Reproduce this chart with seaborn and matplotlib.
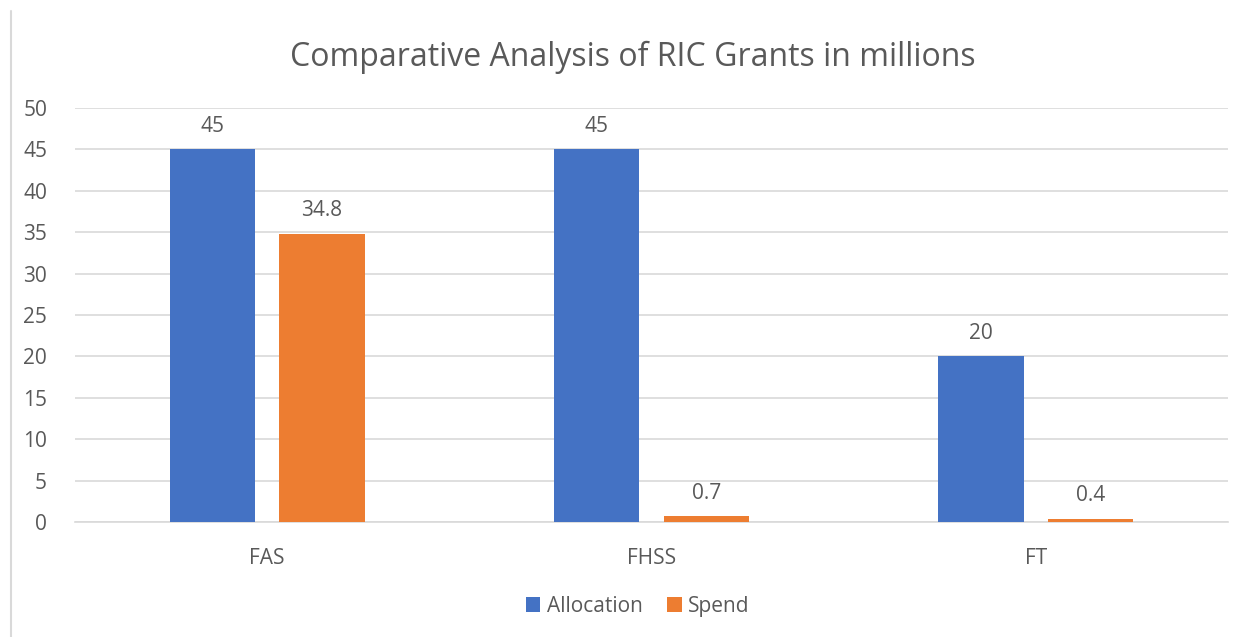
import seaborn as sns
import matplotlib.pyplot as plt
from matplotlib.lines import Line2D
import pandas as pd

faculties = ["FAS", "FHSS", "FT"]
allocation = [45, 45, 20]
spend = [34.8, 0.7, 0.4]
series_names = ["Allocation", "Spend"]
y_ticks = [0, 5, 10, 15, 20, 25, 30, 35, 40, 45, 50]

df = pd.DataFrame({
    "Faculty": faculties * 2,
    "Series": [series_names[0]] * 3 + [series_names[1]] * 3,
    "Value": allocation + spend,
})

sns.set_style("white")
plt.rcParams["font.family"] = ["Open Sans", "DejaVu Sans"]
text_col = "#595959"

fig = plt.figure(figsize=(12.48, 6.37), dpi=100)
ax = fig.add_axes([0.060, 0.1805, 0.924, 0.65])

sns.barplot(data=df, x="Faculty", y="Value", hue="Series",
            palette=["#4472C4", "#ED7D31"], width=0.57, gap=0.22,
            ax=ax, zorder=3, saturation=1, linewidth=0)

for c in ax.containers:
    ax.bar_label(c, fmt="%g", padding=9, fontsize=15, color=text_col)

ax.set_ylim(0, 50)
ax.set_xlim(-0.5, 2.5)
ax.set_yticks(y_ticks)
ax.yaxis.grid(True, color="#D9D9D9", lw=1.2, zorder=0)
ax.set_xlabel("")
ax.set_ylabel("")
for s in ["top", "right", "left"]:
    ax.spines[s].set_visible(False)
ax.spines["bottom"].set_color("#D9D9D9")
ax.spines["bottom"].set_linewidth(1.2)
ax.tick_params(axis="both", length=0, labelsize=15, labelcolor=text_col)
ax.tick_params(axis="y", pad=20)
ax.tick_params(axis="x", pad=19)

ax.set_title("Comparative Analysis of RIC Grants in millions",
             fontsize=23, color=text_col, pad=30, x=0.484)

handles, labels = ax.get_legend_handles_labels()
ax.legend(handles, labels, loc="center", bbox_to_anchor=(0.511, 0.048),
          bbox_transform=fig.transFigure, ncol=2, frameon=False,
          handlelength=0.7, handleheight=0.7, handletextpad=0.3,
          columnspacing=1.2, fontsize=15, labelcolor=text_col)

# chart frame edge on the left
fig.add_artist(Line2D([0.009, 0.009], [0.0, 0.983], color="#D9D9D9", lw=1.5,
                      transform=fig.transFigure))

fig.savefig("out.png", dpi=100)
